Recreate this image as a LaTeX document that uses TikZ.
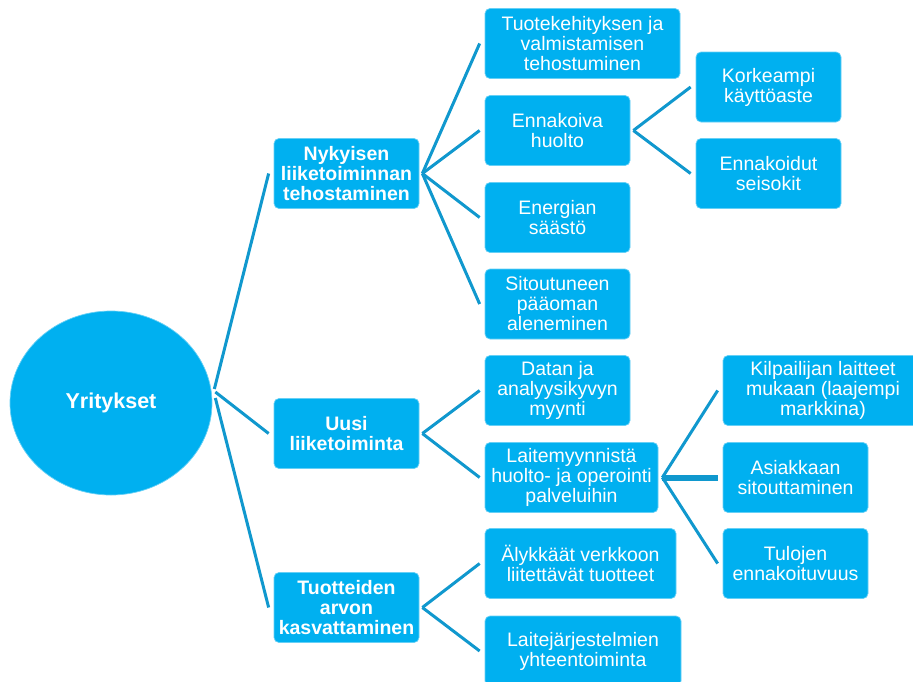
\documentclass[tikz,border=0pt]{standalone}
\usepackage{fontspec}
\setmainfont{Liberation Sans}
\usetikzlibrary{shapes.geometric}
\definecolor{boxblue}{RGB}{0,176,240}
\definecolor{lineblue}{RGB}{16,152,206}
\begin{document}
\begin{tikzpicture}[x=1pt,y=-1pt,
  box/.style={fill=boxblue, rounded corners=5pt, text=white, align=center,
    font=\fontsize{19.5}{20}\selectfont, minimum height=70pt, inner sep=0pt,
    draw=boxblue!60!white, line width=0.7pt},
  lvl/.style={box, font=\fontsize{19.5}{20}\selectfont\bfseries, minimum width=145pt},
  conn/.style={draw=lineblue, line width=3pt},
  thickconn/.style={draw=lineblue, line width=6pt}]
\useasboundingbox (0,0) rectangle (913,681);
\fill[white] (0,0) rectangle (913,681);

\node[ellipse, fill=boxblue, draw=boxblue!60!white, line width=0.7pt, minimum width=202pt, minimum height=184pt, inner sep=0pt,
  text=white, font=\fontsize{21.5}{22}\selectfont\bfseries] (yr) at (111,403) {Yritykset};

\node[lvl] (n1) at (346.5,173.5) {Nykyisen\\liiketoiminnan\\tehostaminen};
\node[lvl] (n2) at (346.5,433.5) {Uusi\\liiketoiminta};
\node[lvl] (n3) at (346.5,607.5) {Tuotteiden\\arvon\\kasvattaminen};

\node[box, minimum width=195pt] (a1) at (582.5,43.5) {Tuotekehityksen ja\\valmistamisen\\tehostuminen};
\node[box, minimum width=145pt] (a2) at (557.5,130.5) {Ennakoiva\\huolto};
\node[box, minimum width=145pt] (a3) at (557.5,217.5) {Energian\\säästö};
\node[box, minimum width=145pt] (a4) at (557.5,304) {Sitoutuneen\\pääoman\\aleneminen};

\node[box, minimum width=145pt] (b1) at (768.5,87) {Korkeampi\\käyttöaste};
\node[box, minimum width=145pt] (b2) at (768.5,173.5) {Ennakoidut\\seisokit};

\node[box, minimum width=145pt] (c1) at (557.5,390.5) {Datan ja\\analyysikyvyn\\myynti};
\node[box, minimum width=173pt] (c2) at (571.5,477.5) {Laitemyynnistä\\huolto- ja operointi\\palveluihin};

\node[box, minimum width=200pt] (d1) at (823,390.5) {Kilpailijan laitteet\\mukaan (laajempi\\markkina)};
\node[box, minimum width=145pt] (d2) at (795.5,477.5) {Asiakkaan\\sitouttaminen};
\node[box, minimum width=145pt] (d3) at (795.5,563.5) {Tulojen\\ennakoituvuus};

\node[box, minimum width=191pt] (e1) at (580.5,563.5) {Älykkäät verkkoon\\liitettävät tuotteet};
\node[box, minimum width=196pt] (e2) at (583,651) {Laitejärjestelmien\\yhteentoiminta};

% connectors
\draw[conn] ([xshift=2pt,yshift=14pt]yr.east) -- ([xshift=-5pt]n1.west);
\draw[conn] ([xshift=3pt,yshift=11pt]yr.east) -- ([xshift=-5pt]n2.west);
\draw[conn] ([xshift=3pt,yshift=5pt]yr.east) -- ([xshift=-5pt]n3.west);

\foreach \c in {a1,a2,a3,a4} \draw[conn] ([xshift=3pt]n1.east) -- ([xshift=-5pt]\c.west);
\foreach \c in {b1,b2} \draw[conn] ([xshift=3pt]a2.east) -- ([xshift=-5pt]\c.west);
\foreach \c in {c1,c2} \draw[conn] ([xshift=3pt]n2.east) -- ([xshift=-5pt]\c.west);
\foreach \c in {e1,e2} \draw[conn] ([xshift=3pt]n3.east) -- ([xshift=-5pt]\c.west);
\foreach \c in {d1,d3} \draw[conn] ([xshift=4pt]c2.east) -- ([xshift=-5pt]\c.west);
\draw[thickconn] ([xshift=4pt]c2.east) -- ([xshift=-5pt]d2.west);
\end{tikzpicture}
\end{document}
